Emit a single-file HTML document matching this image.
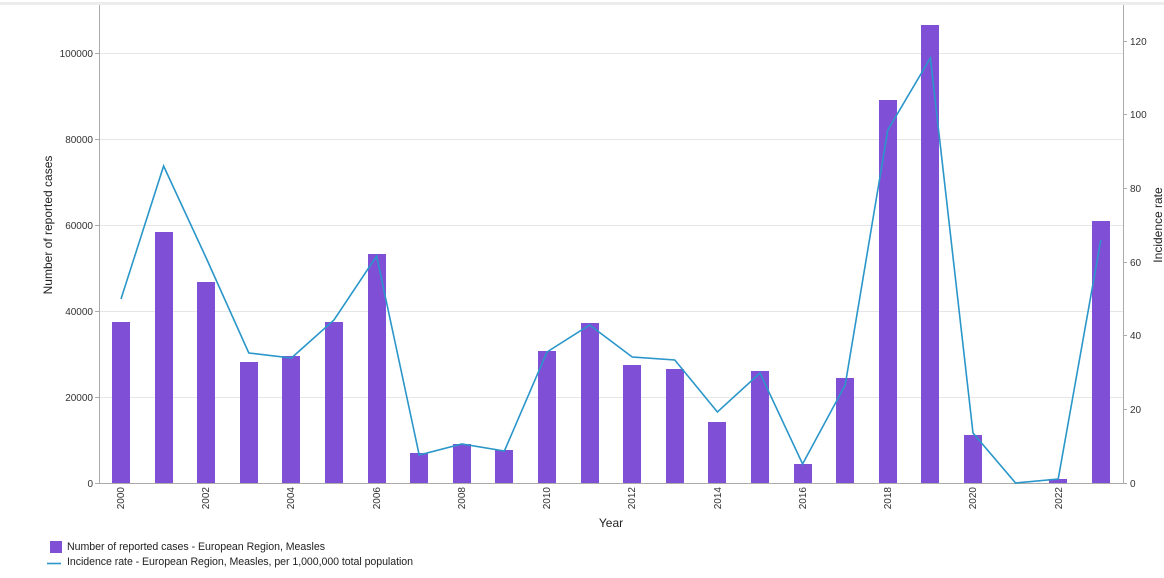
<!DOCTYPE html>
<html><head><style>
html,body{margin:0;padding:0;background:#fff;}
svg{display:block;font-family:"Liberation Sans",Arial,sans-serif;}
</style></head><body>
<svg width="1164" height="578" viewBox="0 0 1164 578" xmlns="http://www.w3.org/2000/svg">
<rect x="0" y="0" width="1164" height="578" fill="#fff"/>
<rect x="0" y="2" width="1164" height="3" fill="#ececec"/>
<g stroke="#e6e6e6" stroke-width="1">
<line x1="99" y1="53.5" x2="1123" y2="53.5"/>
<line x1="99" y1="139.5" x2="1123" y2="139.5"/>
<line x1="99" y1="225.5" x2="1123" y2="225.5"/>
<line x1="99" y1="311.5" x2="1123" y2="311.5"/>
<line x1="99" y1="397.5" x2="1123" y2="397.5"/>
</g>
<g stroke="#aaa" stroke-width="1">
<line x1="99.5" y1="5" x2="99.5" y2="483"/>
<line x1="1123.5" y1="5" x2="1123.5" y2="483"/>
<line x1="99" y1="483.5" x2="1123" y2="483.5"/>
<line x1="95" y1="53.5" x2="99" y2="53.5"/><line x1="95" y1="139.5" x2="99" y2="139.5"/>
<line x1="95" y1="225.5" x2="99" y2="225.5"/><line x1="95" y1="311.5" x2="99" y2="311.5"/>
<line x1="95" y1="397.5" x2="99" y2="397.5"/><line x1="95" y1="483.5" x2="99" y2="483.5"/>
<line x1="1123" y1="41.5" x2="1127" y2="41.5"/><line x1="1123" y1="114.5" x2="1127" y2="114.5"/>
<line x1="1123" y1="188.5" x2="1127" y2="188.5"/><line x1="1123" y1="262.5" x2="1127" y2="262.5"/>
<line x1="1123" y1="335.5" x2="1127" y2="335.5"/><line x1="1123" y1="409.5" x2="1127" y2="409.5"/>
<line x1="1123" y1="483.5" x2="1127" y2="483.5"/>
</g>
<g font-size="10" fill="#333" text-anchor="end">
<text x="93" y="57">100000</text><text x="93" y="143">80000</text><text x="93" y="229">60000</text>
<text x="93" y="315">40000</text><text x="93" y="401">20000</text><text x="93" y="487">0</text>
</g>
<g font-size="10" fill="#333" text-anchor="start">
<text x="1130" y="45">120</text><text x="1130" y="118">100</text><text x="1130" y="192">80</text>
<text x="1130" y="266">60</text><text x="1130" y="339">40</text><text x="1130" y="413">20</text>
<text x="1130" y="487">0</text>
</g>
<g fill="#7f4fd6">
<rect x="112" y="322" width="18" height="161"/>
<rect x="155" y="232" width="18" height="251"/>
<rect x="197" y="282" width="18" height="201"/>
<rect x="240" y="362" width="18" height="121"/>
<rect x="282" y="356" width="18" height="127"/>
<rect x="325" y="322" width="18" height="161"/>
<rect x="368" y="254" width="18" height="229"/>
<rect x="410" y="453" width="18" height="30"/>
<rect x="453" y="444" width="18" height="39"/>
<rect x="495" y="450" width="18" height="33"/>
<rect x="538" y="351" width="18" height="132"/>
<rect x="581" y="323" width="18" height="160"/>
<rect x="623" y="365" width="18" height="118"/>
<rect x="666" y="369" width="18" height="114"/>
<rect x="708" y="422" width="18" height="61"/>
<rect x="751" y="371" width="18" height="112"/>
<rect x="794" y="464" width="18" height="19"/>
<rect x="836" y="378" width="18" height="105"/>
<rect x="879" y="100" width="18" height="383"/>
<rect x="921" y="25" width="18" height="458"/>
<rect x="964" y="435" width="18" height="48"/>
<rect x="1049" y="479" width="18" height="4"/>
<rect x="1092" y="221" width="18" height="262"/>
</g>
<polyline fill="none" stroke="#2a96c9" stroke-width="1.6" points="121,299 163.6,166 206.2,258 248.8,353 291.4,358 334,320 376.6,256 419.2,455 461.8,444 504.4,451 547,352 589.6,325 632.2,357 674.8,360 717.4,412 760,373 802.6,464 845.2,385 887.8,130 930.4,58 973,433 1015.6,483 1058.2,479 1100.8,240"/>
<g font-size="10" fill="#333" text-anchor="end">
<text transform="translate(124,487) rotate(-90)">2000</text>
<text transform="translate(209,487) rotate(-90)">2002</text>
<text transform="translate(294,487) rotate(-90)">2004</text>
<text transform="translate(380,487) rotate(-90)">2006</text>
<text transform="translate(465,487) rotate(-90)">2008</text>
<text transform="translate(550,487) rotate(-90)">2010</text>
<text transform="translate(635,487) rotate(-90)">2012</text>
<text transform="translate(721,487) rotate(-90)">2014</text>
<text transform="translate(806,487) rotate(-90)">2016</text>
<text transform="translate(891,487) rotate(-90)">2018</text>
<text transform="translate(976,487) rotate(-90)">2020</text>
<text transform="translate(1062,487) rotate(-90)">2022</text>
</g>
<text x="611" y="527" font-size="12" fill="#222" text-anchor="middle">Year</text>
<text transform="translate(52,225) rotate(-90)" font-size="12" fill="#222" text-anchor="middle">Number of reported cases</text>
<text transform="translate(1162,225) rotate(-90)" font-size="12" fill="#222" text-anchor="middle">Incidence rate</text>
<rect x="50" y="541" width="12" height="12" fill="#7f4fd6"/>
<text x="67" y="550" font-size="10.6" fill="#222" textLength="258">Number of reported cases - European Region, Measles</text>
<line x1="47" y1="563.5" x2="61" y2="563.5" stroke="#2a96c9" stroke-width="1.6"/>
<text x="67" y="565" font-size="10.6" fill="#222" textLength="346">Incidence rate - European Region, Measles, per 1,000,000 total population</text>
</svg>
</body></html>
